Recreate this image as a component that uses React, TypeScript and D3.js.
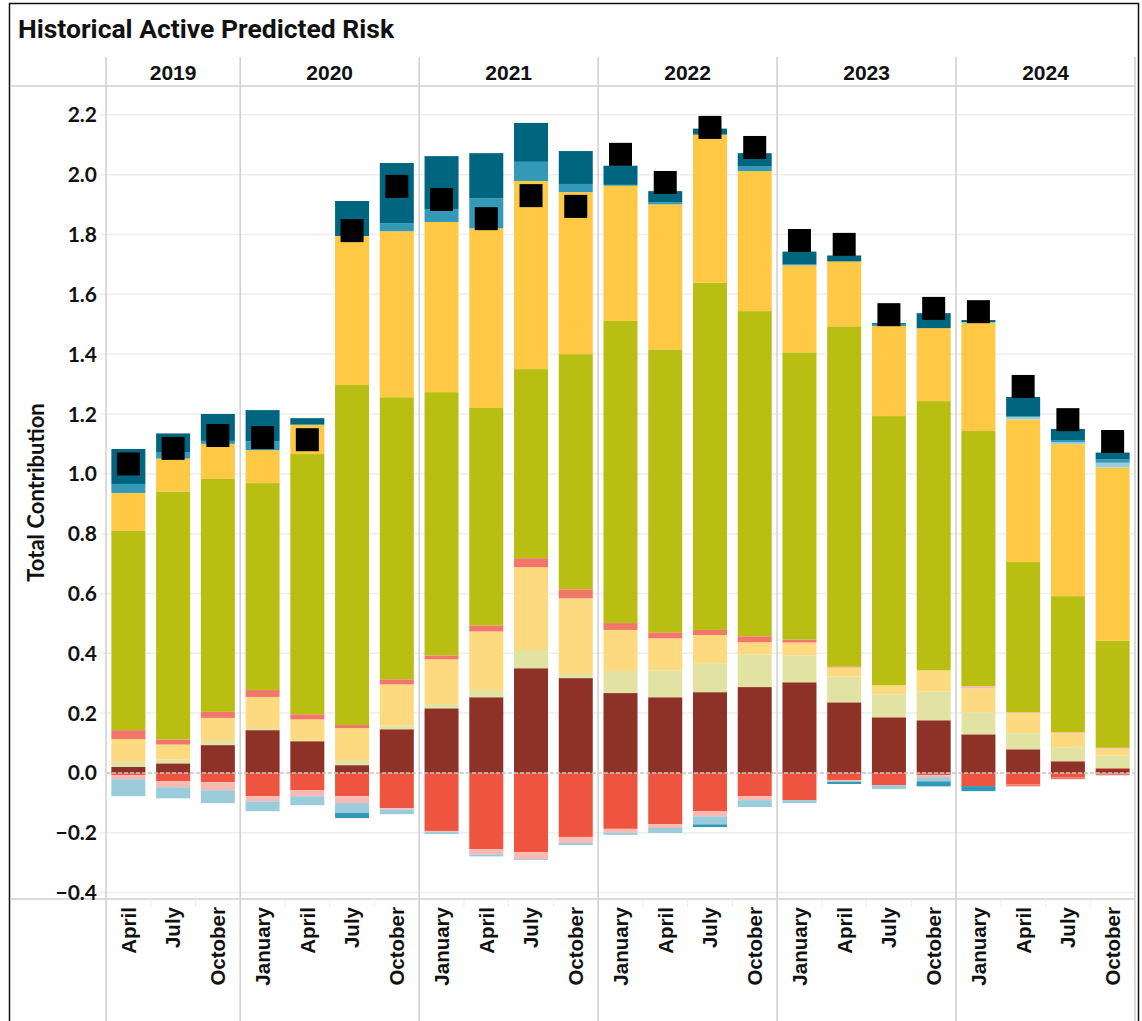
import React from "react";
import * as d3 from "d3";

// Quarter labels and their years
const months = [
  "April", "July", "October",
  "January", "April", "July", "October",
  "January", "April", "July", "October",
  "January", "April", "July", "October",
  "January", "April", "July", "October",
  "January", "April", "July", "October",
];
const years = [
  "2019", "2019", "2019",
  "2020", "2020", "2020", "2020",
  "2021", "2021", "2021", "2021",
  "2022", "2022", "2022", "2022",
  "2023", "2023", "2023", "2023",
  "2024", "2024", "2024", "2024",
];

// Risk contributions per factor group (stack order)
const brown = [0.020, 0.032, 0.093, 0.143, 0.106, 0.026, 0.146, 0.216, 0.253, 0.350, 0.317, 0.267, 0.253, 0.270, 0.287, 0.303, 0.236, 0.186, 0.176, 0.129, 0.079, 0.039, 0.013];
const red = [-0.008, -0.028, -0.031, -0.078, -0.058, -0.078, -0.118, -0.194, -0.255, -0.265, -0.214, -0.187, -0.171, -0.128, -0.078, -0.091, -0.024, -0.041, -0.008, -0.044, -0.038, -0.014, 0.003];
const khaki = [0.018, 0.013, 0.017, 0.007, 0.003, 0.017, 0.013, 0.014, 0.024, 0.061, 0.014, 0.074, 0.090, 0.097, 0.110, 0.090, 0.087, 0.077, 0.097, 0.074, 0.054, 0.047, 0.042];
const lightYellow = [0.075, 0.050, 0.074, 0.104, 0.070, 0.107, 0.137, 0.150, 0.196, 0.277, 0.253, 0.137, 0.107, 0.094, 0.040, 0.043, 0.030, 0.030, 0.070, 0.080, 0.067, 0.047, 0.023];
const pink = [-0.013, -0.020, -0.027, -0.017, -0.020, -0.023, -0.004, -0.003, -0.017, -0.023, -0.020, -0.013, -0.013, -0.017, -0.013, 0, -0.003, 0, -0.006, 0.007, 0.003, 0.003, 0.003];
const salmon = [0.030, 0.017, 0.020, 0.023, 0.017, 0.010, 0.017, 0.013, 0.020, 0.030, 0.030, 0.023, 0.020, 0.017, 0.020, 0.010, 0.003, 0, 0, 0, -0.007, -0.007, -0.008];
const olive = [0.666, 0.829, 0.779, 0.692, 0.870, 1.137, 0.943, 0.880, 0.727, 0.632, 0.786, 1.010, 0.946, 1.161, 1.087, 0.960, 1.137, 0.900, 0.900, 0.853, 0.502, 0.455, 0.358];
const yellow = [0.127, 0.110, 0.117, 0.110, 0.097, 0.498, 0.555, 0.569, 0.601, 0.629, 0.542, 0.452, 0.485, 0.495, 0.468, 0.291, 0.217, 0.301, 0.244, 0.361, 0.477, 0.508, 0.579];
const lightBlue = [-0.057, -0.037, -0.043, -0.033, -0.030, -0.033, -0.016, -0.007, -0.007, -0.003, -0.007, -0.007, -0.017, -0.027, -0.023, -0.010, -0.003, -0.013, -0.014, 0.003, 0.008, 0.007, 0.016];
const medTeal = [0.030, 0.020, 0.010, 0.030, 0.003, -0.017, 0.027, 0.043, 0.100, 0.064, 0.027, 0.003, 0.007, -0.009, 0.017, 0.003, -0.007, 0.007, -0.017, -0.017, 0.003, 0.007, 0.011];
const darkTeal = [0.117, 0.064, 0.090, 0.104, 0.020, 0.117, 0.201, 0.177, 0.151, 0.130, 0.110, 0.064, 0.037, 0.020, 0.043, 0.043, 0.020, 0.003, 0.050, 0.007, 0.064, 0.037, 0.023];

// Total active predicted risk per quarter
const totals = [1.033, 1.085, 1.128, 1.121, 1.114, 1.813, 1.961, 1.917, 1.853, 1.930, 1.894, 2.068, 1.974, 2.158, 2.091, 1.780, 1.767, 1.532, 1.553, 1.542, 1.292, 1.181, 1.108];

const yTicks = [-0.4, -0.2, 0, 0.2, 0.4, 0.6, 0.8, 1.0, 1.2, 1.4, 1.6, 1.8, 2.0, 2.2];

const series = [
  { key: "brown", values: brown, color: "#8E3127" },
  { key: "red", values: red, color: "#EF5440" },
  { key: "khaki", values: khaki, color: "#E2E3A2" },
  { key: "lightYellow", values: lightYellow, color: "#FDD97F" },
  { key: "pink", values: pink, color: "#F8B9B1" },
  { key: "salmon", values: salmon, color: "#F2776A" },
  { key: "olive", values: olive, color: "#B8BF12" },
  { key: "yellow", values: yellow, color: "#FFC845" },
  { key: "lightBlue", values: lightBlue, color: "#9ACCDB" },
  { key: "medTeal", values: medTeal, color: "#3399B8" },
  { key: "darkTeal", values: darkTeal, color: "#00667F" },
];

const W = 1142;
const H = 1021;
const plot = { left: 106, right: 1135, top: 86, bottom: 899 };
const divider = "#cfcfcf";

export default function App() {
  const n = months.length;
  const x = d3
    .scaleBand<number>()
    .domain(d3.range(n))
    .range([plot.left, plot.right])
    .paddingInner(0.24)
    .paddingOuter(0.12);
  const y = d3.scaleLinear().domain([-0.4215, 2.2965]).range([plot.bottom, plot.top]);

  const rows = months.map((_, i) => {
    const r: Record<string, number> = {};
    series.forEach((s) => (r[s.key] = s.values[i]));
    return r;
  });
  const stacked = d3
    .stack<Record<string, number>>()
    .keys(series.map((s) => s.key))
    .offset(d3.stackOffsetDiverging)(rows);

  // year groups: first/last index
  const yearGroups: { year: string; start: number; end: number }[] = [];
  years.forEach((yr, i) => {
    const last = yearGroups[yearGroups.length - 1];
    if (last && last.year === yr) last.end = i;
    else yearGroups.push({ year: yr, start: i, end: i });
  });
  const step = x.step();
  const bandLeft = (i: number) => plot.left + i * step;

  const markerSize = 23;

  return (
    <svg
      width={W}
      height={H}
      style={{ position: "absolute", left: 0, top: 0, background: "#fff" }}
    >
      <rect x={0} y={0} width={W} height={H} fill="#fff" />
      {/* outer frame */}
      <rect x={9.5} y={3.5} width={1129} height={1040} fill="none" stroke="#111" strokeWidth={1.5} />

      <text
        x={18}
        y={38}
        fontFamily="Roboto, 'Liberation Sans', Arial, sans-serif"
        fontWeight={700}
        fontSize={26.5}
        fill="#111"
      >
        Historical Active Predicted Risk
      </text>

      {/* gridlines */}
      {yTicks.map((t) =>
        t === 0 ? null : (
          <line
            key={"g" + t}
            x1={100}
            x2={plot.right}
            y1={y(t)}
            y2={y(t)}
            stroke="#eeeeee"
            strokeWidth={1.5}
          />
        )
      )}

      {/* stacked bars */}
      {stacked.map((layer, li) => (
        <g key={layer.key} fill={series[li].color}>
          {layer.map((d, i) => {
            const y0 = y(d[0]);
            const y1 = y(d[1]);
            const h = Math.abs(y0 - y1);
            if (h < 0.01) return null;
            return (
              <rect
                key={i}
                x={x(i)}
                y={Math.min(y0, y1)}
                width={x.bandwidth()}
                height={h}
              />
            );
          })}
        </g>
      ))}

      {/* zero line */}
      <line
        x1={plot.left}
        x2={plot.right}
        y1={y(0)}
        y2={y(0)}
        stroke="#c4c4c4"
        strokeWidth={1.5}
        strokeDasharray="4 2"
      />

      {/* total markers */}
      {totals.map((t, i) => (
        <rect
          key={"m" + i}
          x={(x(i) as number) + x.bandwidth() / 2 - markerSize / 2}
          y={y(t) - markerSize / 2}
          width={markerSize}
          height={markerSize}
          fill="#000"
        />
      ))}

      {/* header and axis separators */}
      <line x1={10} x2={plot.right} y1={plot.top} y2={plot.top} stroke={divider} strokeWidth={1.5} />
      <line x1={10} x2={plot.right} y1={plot.bottom} y2={plot.bottom} stroke={divider} strokeWidth={1.5} />

      {/* month separators in the axis band */}
      {d3.range(1, n).map((i) => (
        <line
          key={"ms" + i}
          x1={bandLeft(i)}
          x2={bandLeft(i)}
          y1={plot.bottom}
          y2={plot.bottom + 8}
          stroke="#ececec"
          strokeWidth={1}
        />
      ))}

      {/* year dividers */}
      {[...yearGroups.map((g) => bandLeft(g.start)), plot.right].map((xv, k) => (
        <line
          key={"yd" + k}
          x1={xv}
          x2={xv}
          y1={57}
          y2={H}
          stroke={divider}
          strokeWidth={1.5}
        />
      ))}

      {/* year labels */}
      {yearGroups.map((g) => (
        <text
          key={g.year}
          x={(bandLeft(g.start) + bandLeft(g.end + 1)) / 2}
          y={80}
          textAnchor="middle"
          fontFamily="'Liberation Sans', Arial, sans-serif"
          fontWeight={700}
          fontSize={21}
          fill="#111"
        >
          {g.year}
        </text>
      ))}

      {/* y tick labels */}
      {yTicks.map((t) => (
        <text
          key={"t" + t}
          x={97}
          y={y(t)}
          dy="0.36em"
          textAnchor="end"
          fontFamily="Lato, 'Open Sans', sans-serif"
          fontWeight={700}
          fontSize={21}
          fill="#111"
        >
          {d3.format(".1f")(t)}
        </text>
      ))}

      {/* y axis title */}
      <text
        transform={`translate(36, ${(plot.top + plot.bottom) / 2}) rotate(-90)`}
        dy="0.35em"
        textAnchor="middle"
        fontFamily="Lato, 'Open Sans', sans-serif"
        fontWeight={700}
        fontSize={22}
        fill="#111"
      >
        Total Contribution
      </text>

      {/* month labels */}
      {months.map((m, i) => (
        <text
          key={"ml" + i}
          transform={`translate(${(x(i) as number) + x.bandwidth() / 2}, ${plot.bottom + 8}) rotate(-90)`}
          dy="0.36em"
          textAnchor="end"
          fontFamily="'Liberation Sans', Arial, sans-serif"
          fontWeight={700}
          fontSize={20.5}
          fill="#111"
        >
          {m}
        </text>
      ))}
    </svg>
  );
}
